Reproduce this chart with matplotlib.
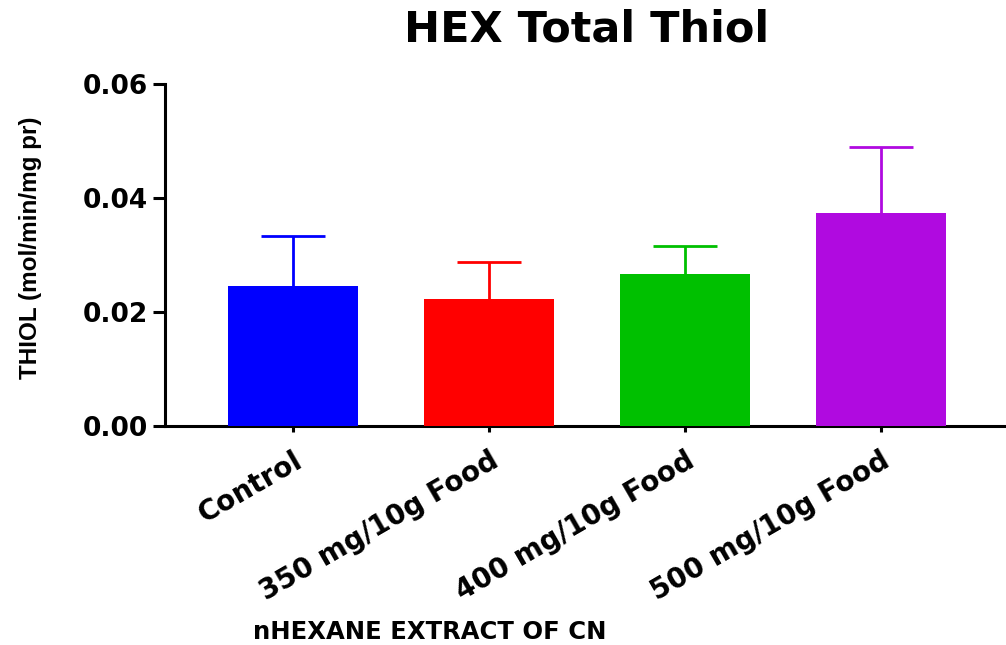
import matplotlib
matplotlib.use("Agg")
import matplotlib.pyplot as plt
import numpy as np

categories = ["Control", "350 mg/10g Food", "400 mg/10g Food", "500 mg/10g Food"]
means = [0.0246, 0.0223, 0.0267, 0.0374]
errors = [0.0088, 0.0064, 0.0049, 0.0115]
colors = ["#0000FF", "#FF0000", "#00C000", "#B00AE0"]
yticks = [0.00, 0.02, 0.04, 0.06]
ytick_labels = ["0.00", "0.02", "0.04", "0.06"]

title = "HEX Total Thiol"
xlabel = "nHEXANE EXTRACT OF CN"
ylabel = "THIOL (mol/min/mg pr)"

W, H = 1006, 645
fig = plt.figure(figsize=(W / 100, H / 100), dpi=100)
ax = fig.add_axes([165 / W, (H - 426) / H, (W - 165) / W, (426 - 84) / H])

x = np.arange(len(categories))
means_a = np.array(means)
errs_a = np.array(errors)
ax.bar(x, means_a, width=0.665, color=colors, zorder=3)
ax.vlines(x, means_a, means_a + errs_a, colors=colors, linewidth=2.0, zorder=2)
ax.hlines(means_a + errs_a, x - 0.164, x + 0.164, colors=colors, linewidth=2.0, zorder=2)

ax.set_xlim(-0.655, 3.64)
ax.set_ylim(0, 0.06)
for s in ["top", "right"]:
    ax.spines[s].set_visible(False)
for s in ["left", "bottom"]:
    ax.spines[s].set_linewidth(2.2)
    ax.spines[s].set_capstyle("projecting")

ax.set_yticks(yticks)
ax.set_yticklabels(ytick_labels, fontfamily="DejaVu Sans", fontweight="bold", fontsize=19)
ax.tick_params(axis="y", length=8.5, width=2.2, pad=4)
ax.set_xticks(x)
ax.set_xticklabels(categories, rotation=30, ha="right", va="top", rotation_mode="anchor",
                   fontfamily="DejaVu Sans", fontweight="bold", fontsize=20)
ax.tick_params(axis="x", length=4.5, width=2.2, pad=10)

fig.text(587 / W, 1 - 29 / H, title, ha="center", va="center",
         fontfamily="DejaVu Sans", fontweight="bold", fontsize=31)
fig.text(430 / W, 1 - 632 / H, xlabel, ha="center", va="center",
         fontfamily="DejaVu Sans", fontweight="bold", fontsize=17.5)
fig.text(31 / W, 1 - 248 / H, ylabel, ha="center", va="center", rotation=90,
         fontfamily="Liberation Sans", fontweight="bold", fontsize=17.5)

fig.savefig("out.png", dpi=100)
